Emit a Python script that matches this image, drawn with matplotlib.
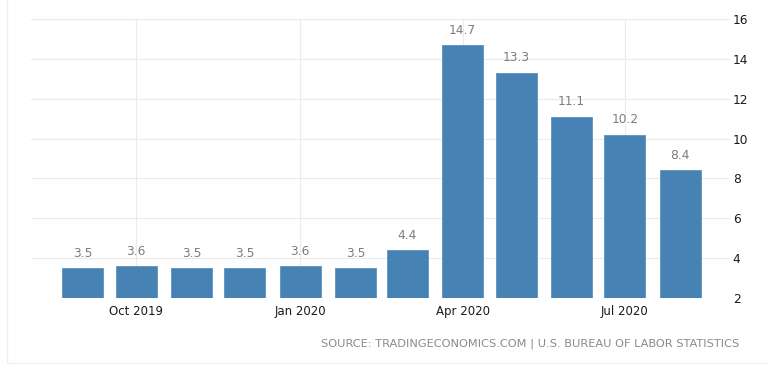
import matplotlib
matplotlib.use("Agg")
import matplotlib.pyplot as plt
import matplotlib.dates as mdates
from matplotlib.patches import Rectangle
import datetime as dt

# monthly values, Sep 2019 - Aug 2020
months = [dt.date(2019, m, 1) for m in range(9, 13)] + [dt.date(2020, m, 1) for m in range(1, 9)]
values = [3.5, 3.6, 3.5, 3.5, 3.6, 3.5, 4.4, 14.7, 13.3, 11.1, 10.2, 8.4]

tick_dates = [dt.date(2019, 10, 1), dt.date(2020, 1, 1), dt.date(2020, 4, 1), dt.date(2020, 7, 1)]
tick_labels = ["Oct 2019", "Jan 2020", "Apr 2020", "Jul 2020"]
y_ticks = [2, 4, 6, 8, 10, 12, 14, 16]

source = "SOURCE: TRADINGECONOMICS.COM | U.S. BUREAU OF LABOR STATISTICS"

bar_color = "#4682b4"
grid_color = "#ebebeb"

fig = plt.figure(figsize=(7.68, 3.7), dpi=100)
ax = fig.add_axes([0.0404, 0.1946, 0.9101, 0.754])

x = mdates.date2num(months)
ax.bar(x, values, width=23, bottom=0, color=bar_color, edgecolor="#5b93c2", linewidth=0.6, zorder=3)

for xi, v in zip(x, values):
    ax.annotate(format(v, ".1f"), (xi, v), xytext=(0, 6), textcoords="offset points",
                ha="center", va="bottom", fontsize=8.8, color="#7d7d7d", zorder=4)

ax.set_xlim(mdates.date2num(dt.date(2019, 8, 3)), mdates.date2num(dt.date(2020, 8, 29)))
ax.set_ylim(2, 16)
ax.set_xticks(mdates.date2num(tick_dates))
ax.set_xticklabels(tick_labels, fontsize=8.5, color="#1a1a1a")
ax.set_yticks(y_ticks)
ax.yaxis.tick_right()
ax.tick_params(axis="y", length=0, pad=2, labelsize=8.8, labelcolor="#1a1a1a")
ax.tick_params(axis="x", length=0, pad=5)

ax.grid(True, color=grid_color, linewidth=0.8, zorder=0)
for s in ax.spines.values():
    s.set_visible(False)

fig.text(0.963, 0.072, source, ha="right", va="center", fontsize=8.2, color="#8a8a8a")

# faint outer frame
fig.patches.append(Rectangle((0.009, 0.019), 1.2, 1.2, transform=fig.transFigure,
                             fill=False, edgecolor="#f0f0f0", linewidth=1))

fig.savefig("out.png", dpi=100)
